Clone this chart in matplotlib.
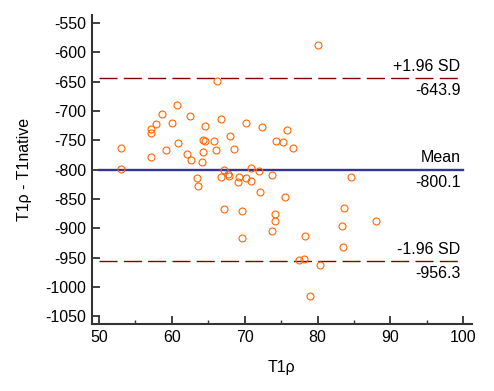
import matplotlib.pyplot as plt
from matplotlib.ticker import MultipleLocator

# Bland-Altman data: mean T1rho (x) vs difference T1rho - T1native (y)
t1rho = [53.1, 53.1, 57.1, 57.2, 57.2, 57.8, 58.7, 59.2, 60.0, 60.7,
         60.9, 62.1, 62.5, 62.7, 63.5, 63.6, 64.1, 64.3, 64.3, 64.6,
         64.6, 65.8, 66.1, 66.2, 66.8, 66.7, 67.1, 67.2, 67.7, 67.9,
         68.0, 68.5, 69.2, 69.1, 69.7, 69.7, 70.2, 70.2, 70.8, 70.9,
         71.9, 72.1, 72.4, 73.7, 73.7, 74.1, 74.1, 74.3, 75.3, 75.5,
         75.8, 76.6, 77.4, 78.1, 78.3, 79.0, 80.0, 80.3, 83.4, 83.5,
         83.6, 84.6, 88.0]
diff = [-763, -799, -731, -737, -778, -723, -705, -766, -720, -690,
        -755, -773, -708, -784, -815, -828, -787, -770, -750, -751,
        -726, -752, -767, -649, -713, -813, -868, -801, -807, -811,
        -743, -764, -813, -821, -871, -917, -720, -815, -819, -798,
        -802, -839, -728, -810, -905, -876, -887, -751, -753, -846,
        -732, -763, -955, -953, -914, -1016, -588, -963, -896, -932,
        -865, -813, -888]

mean_diff = -800.1
upper_loa = -643.9
lower_loa = -956.3


def main():
    plt.rcParams['font.family'] = ['Liberation Sans', 'DejaVu Sans']
    plt.rcParams['font.size'] = 11.5
    plt.rcParams['axes.unicode_minus'] = False

    fig = plt.figure(figsize=(4.94, 3.91), dpi=100)
    ax = fig.add_axes([0.186, 0.171, 0.769, 0.791])

    ax.plot(t1rho, diff, 'o', mfc='none', mec='#ff6600', ms=5, mew=0.8, zorder=3)

    ax.plot([50, 100], [mean_diff, mean_diff], color='#333399', lw=1.7)
    for v in (upper_loa, lower_loa):
        ax.plot([50, 100], [v, v], color='#800000', lw=1.0, dashes=(13, 4.5))

    labels = [(upper_loa, '+1.96 SD', '%.1f' % upper_loa),
              (mean_diff, 'Mean', '%.1f' % mean_diff),
              (lower_loa, '-1.96 SD', '%.1f' % lower_loa)]
    for v, top, bottom in labels:
        ax.annotate(top, (99.6, v), xytext=(0, 8.5), textcoords='offset points',
                    ha='right', va='center')
        ax.annotate(bottom, (99.6, v), xytext=(0, -9), textcoords='offset points',
                    ha='right', va='center')

    ax.set_xlim(49.04, 101.15)
    ax.set_ylim(-1063.6, -536)
    ax.set_xticks(range(50, 101, 10))
    ax.xaxis.set_minor_locator(MultipleLocator(5))
    ax.set_yticks(range(-1050, -549, 50))

    for side in ('top', 'right'):
        ax.spines[side].set_visible(False)
    for side in ('left', 'bottom'):
        ax.spines[side].set_color('#333333')
        ax.spines[side].set_linewidth(1.5)
    ax.tick_params(which='major', direction='in', length=5.5, width=1.3,
                   color='#333333', labelsize=11.5, pad=4)
    ax.tick_params(which='minor', direction='in', length=3, width=1.0,
                   color='#333333')

    ax.set_xlabel('T1ρ', labelpad=11)
    ax.set_ylabel('T1ρ - T1native', labelpad=10)

    fig.savefig('out.png', dpi=100)


if __name__ == "__main__":
    main()
